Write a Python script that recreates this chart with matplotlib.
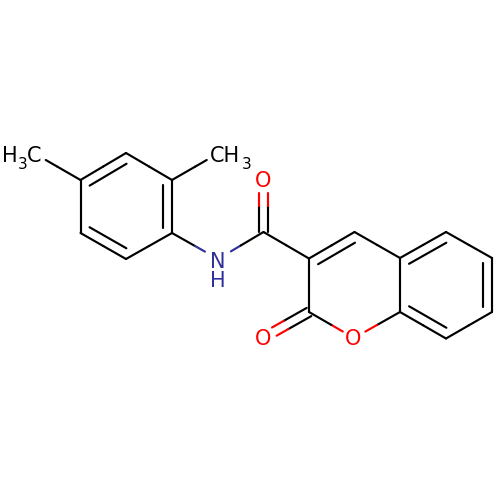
import numpy as np
import matplotlib
matplotlib.use("Agg")
import matplotlib.pyplot as plt

# Atom positions
atom_names = ["Me4", "C4", "C3", "C2", "Me2", "C1", "C6", "C5", "N", "CO", "O_amide",
              "C3c", "C4c", "C4a", "C5c", "C6c", "C7c", "C8c", "C8a", "O1", "C2c", "O_keto"]
atom_x = [34.5, 80.5, 126, 172, 218, 172, 126, 80.5, 218, 263.5, 263.5,
          309, 354.5, 400, 446, 492, 492, 446, 400, 354, 309, 263]
atom_y = [153.5, 180, 153, 180, 153.5, 233, 259, 233, 259, 232, 180,
          258.5, 232, 258, 232, 258, 312, 338.5, 312, 338, 312, 338]
atom_colors = {"N": "#30309c", "O_amide": "#ff0000", "O1": "#ff0000", "O_keto": "#ff0000"}
label_gaps = {"Me4": 13, "Me2": 13, "N": 15, "O_amide": 13, "O1": 13, "O_keto": 13}

single_bonds = [("Me4", "C4"), ("C4", "C5"), ("C3", "C2"), ("C2", "Me2"), ("C1", "C6"),
                ("C1", "N"), ("N", "CO"), ("CO", "C3c"), ("C3c", "C2c"), ("C4c", "C4a"),
                ("C4a", "C5c"), ("C5c", "C6c"), ("C6c", "C7c"), ("C7c", "C8c"), ("C8c", "C8a"),
                ("C8a", "C4a"), ("C8a", "O1"), ("O1", "C2c"), ("C4", "C3"), ("C2", "C1"),
                ("C6", "C5"), ("C3c", "C4c")]
# second line of a ring double bond, and the ring it sits in
ring_doubles = [("C4", "C3", "A"), ("C2", "C1", "A"), ("C6", "C5", "A"), ("C3c", "C4c", "P"),
                ("C4a", "C5c", "B"), ("C6c", "C7c", "B"), ("C8c", "C8a", "B")]
ring_centers = {"A": (126, 206), "P": (355, 285), "B": (446, 285)}
carbonyls = [("CO", "O_amide"), ("C2c", "O_keto")]

pos = {n: np.array([x, y], dtype=float) for n, x, y in zip(atom_names, atom_x, atom_y)}
lw = 1.55


def draw_bond(ax, p, q, name_p, name_q):
    # each half takes the colour of its atom, labelled ends stop short of the text
    d = (q - p) / np.linalg.norm(q - p)
    mid = (p + q) / 2
    start = p + d * label_gaps.get(name_p, 0)
    end = q - d * label_gaps.get(name_q, 0)
    for a, b, name in [(start, mid, name_p), (mid, end, name_q)]:
        ax.plot([a[0], b[0]], [a[1], b[1]], color=atom_colors.get(name, "black"),
                lw=lw, solid_capstyle="round", zorder=2)


fig = plt.figure(figsize=(5, 5), dpi=100)
ax = fig.add_axes([0, 0, 1, 1])
ax.set_xlim(0, 500)
ax.set_ylim(500, 0)
ax.axis("off")

for a, b in single_bonds:
    draw_bond(ax, pos[a], pos[b], a, b)

for a, b, ring in ring_doubles:
    p, q = pos[a], pos[b]
    d = (q - p) / np.linalg.norm(q - p)
    n = np.array([-d[1], d[0]])
    if np.dot(np.array(ring_centers[ring]) - p, n) < 0:
        n = -n
    s = p + n * 9.5 + d * 5
    e = q + n * 9.5 - d * 5
    ax.plot([s[0], e[0]], [s[1], e[1]], color="black", lw=lw, solid_capstyle="round", zorder=2)

for a, b in carbonyls:
    p, q = pos[a], pos[b]
    d = (q - p) / np.linalg.norm(q - p)
    n = np.array([-d[1], d[0]])
    for side in (-1, 1):
        draw_bond(ax, p + side * 4.7 * n, q + side * 4.7 * n, a, b)

fs = 15
sub_fs = 11
ax.text(218, 262, "N", color=atom_colors["N"], fontsize=fs, ha="center", va="center")
ax.text(218, 281, "H", color=atom_colors["N"], fontsize=fs, ha="center", va="center")
ax.text(263, 181, "O", color="#ff0000", fontsize=fs, ha="center", va="center")
ax.text(263, 339, "O", color="#ff0000", fontsize=fs, ha="center", va="center")
ax.text(353, 339, "O", color="#ff0000", fontsize=fs, ha="center", va="center")

# methyl labels, subscripts set by hand so they sit as low as in the reference
ax.text(2, 162, "H", color="black", fontsize=fs, ha="left", va="baseline")
ax.text(17.5, 169, "3", color="black", fontsize=sub_fs, ha="left", va="baseline")
ax.text(27, 162, "C", color="black", fontsize=fs, ha="left", va="baseline")
ax.text(210, 162, "CH", color="black", fontsize=fs, ha="left", va="baseline")
ax.text(241.5, 169, "3", color="black", fontsize=sub_fs, ha="left", va="baseline")

fig.savefig("out.png", dpi=100, facecolor="white")
